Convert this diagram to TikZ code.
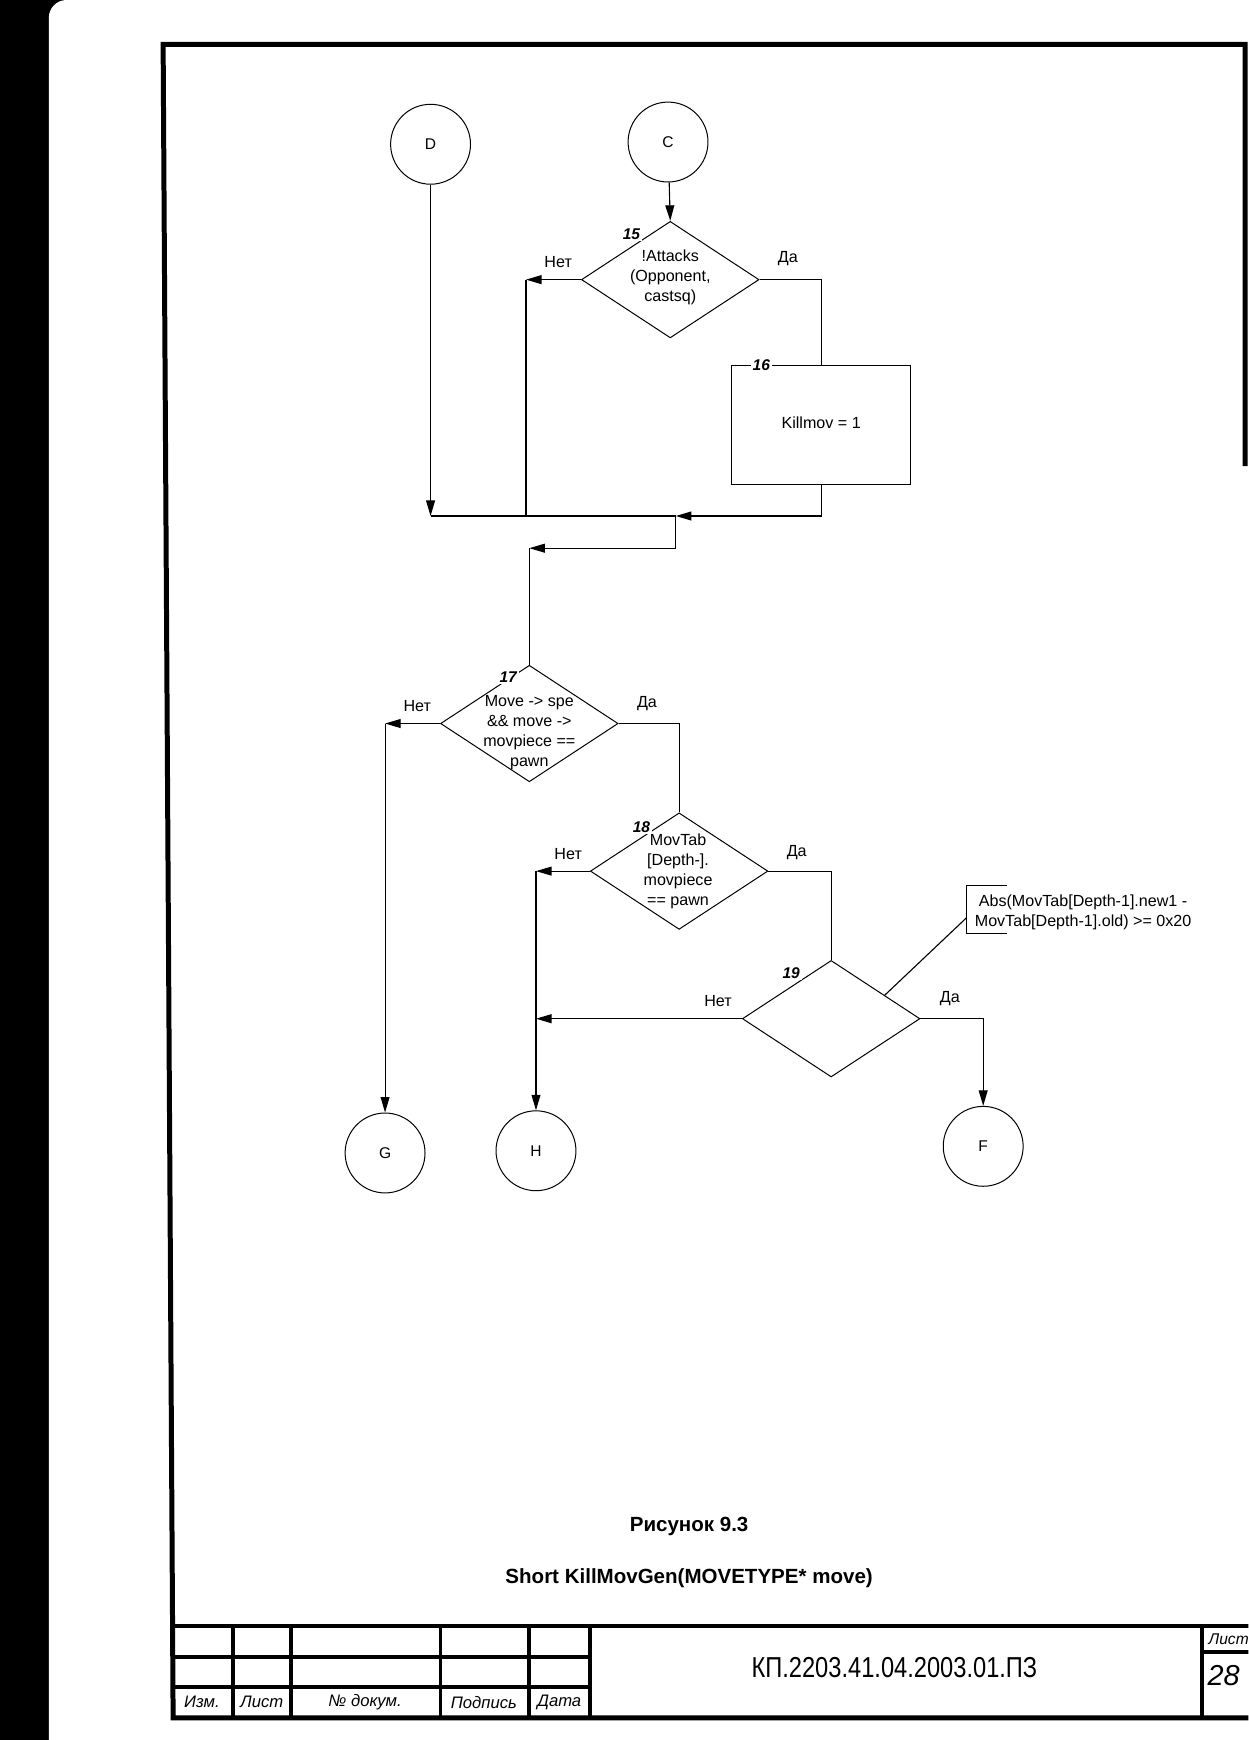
\documentclass[tikz,border=0pt]{standalone}
\usepackage{fontspec}
\setmainfont{Liberation Sans}
\newfontfamily\narrowfont[FakeStretch=0.82]{Liberation Sans}
\usetikzlibrary{shapes.geometric,arrows.meta,calc}
\begin{document}
\begin{tikzpicture}[x=1pt,y=-1pt,
  conn/.style={line width=1pt},
  arr/.style={conn,-{Triangle[length=14pt,width=8pt]}},
  circ/.style={draw,circle,line width=0.9pt,minimum size=72pt,inner sep=0pt,font=\fontsize{14}{16}\selectfont},
  dia/.style={draw,diamond,line width=0.9pt,minimum width=160pt,minimum height=105pt,inner sep=0pt},
  proc/.style={draw,rectangle,line width=0.9pt,minimum width=161pt,minimum height=108pt,inner sep=0pt},
  txt/.style={align=center,inner sep=0pt,font=\fontsize{14.5}{18}\selectfont},
  lbl/.style={inner sep=0pt,font=\fontsize{14.5}{18}\selectfont},
  num/.style={fill=white,inner sep=1.5pt,font=\fontsize{14}{16}\selectfont\bfseries\itshape},
  frame/.style={line width=4.5pt,line join=miter},
  tb/.style={line width=3.5pt},
  tbl/.style={inner sep=0pt,font=\fontsize{15}{17}\selectfont\itshape},
  captxt/.style={inner sep=0pt,font=\fontsize{18.5}{22}\selectfont\bfseries},
]
\useasboundingbox (0,0) rectangle (1125,1568);
\clip (0,0) rectangle (1125,1568);
% scanned page edge
\fill[black] (0,0) rectangle (60,1568);
\fill[white,rounded corners=16pt] (44,0) rectangle (1300,1700);

% sheet frame
\draw[frame] (1122,420) -- (1122,40) -- (147,40) -- (156,1548) -- (1130,1548);

% title block
\draw[tb] (156,1465) -- (1130,1465);
\draw[tb] (156,1493) -- (532,1493);
\draw[tb] (156,1520) -- (532,1520);
\foreach \xx in {210,262,397,477,532,1083} \draw[tb] (\xx,1465) -- (\xx,1548);
\draw[tb] (1083,1489) -- (1130,1489);
\node[tbl] (t1) at (182,1534) {Изм.};
\node[tbl] (t2) at (236,1534) {Лист};
\node[tbl] (t3) at (329,1534) {№ докум.};
\node[tbl] (t4) at (436,1534) {Подпись};
\node[tbl] (t5) at (504,1534) {Дата};
\node[inner sep=0pt,font=\narrowfont\fontsize{26}{28}\selectfont] (doc) at (806,1503) {КП.2203.41.04.2003.01.ПЗ};
\node[inner sep=0pt,anchor=west,font=\fontsize{14}{16}\selectfont\itshape] (ls) at (1089,1477) {Лист};
\node[inner sep=0pt,anchor=west,font=\fontsize{26}{28}\selectfont\itshape] (pg) at (1088,1510) {28};

% captions
\node[captxt] (cap1) at (621,1376) {Рисунок 9.3};
\node[captxt] (cap2) at (621,1422) {Short KillMovGen(MOVETYPE* move)};

% nodes
\node[circ] (D) at (388,130) {D};
\node[circ] (C) at (602,128) {C};
\node[dia] (d15) at (604,252) {};
\node[txt] (t15) at (604,250) {!Attacks\\(Opponent,\\castsq)};
\node[proc] (b16) at (740,383) {};
\node[txt] (t16) at (740,381) {Killmov = 1};
\node[dia] (d17) at (477,652) {};
\node[txt] (t17) at (477,660) {Move -> spe\\\&\& move ->\\movpiece ==\\pawn};
\node[dia] (d18) at (612,785) {};
\node[txt] (t18) at (611,785) {MovTab\\{[Depth-].}\\movpiece\\== pawn};
\node[dia] (d19) at (749,918) {};
\node[circ] (G) at (347,1039) {G};
\node[circ] (H) at (483,1037) {H};
\node[circ] (F) at (886,1033) {F};

% block numbers
\node[num] (n15l) at (569,211) {15};
\node[num] (n16l) at (686,329) {16};
\node[num] (n17l) at (458,610) {17};
\node[num] (n18l) at (578,745) {18};
\node[num] (n19l) at (713,877) {19};

% junction points
\coordinate (n15) at (474,252);
\coordinate (n15b) at (474,465);
\coordinate (m1) at (388,465);
\coordinate (m2) at (609,465);
\coordinate (m2b) at (609,494);
\coordinate (m3) at (477,494);
\coordinate (n17) at (347,652);
\coordinate (n18) at (483,785);
\coordinate (n19) at (483,918);

% connectors
\draw[arr] (C) -- (d15.north);
\draw[arr] (d15.west) -- (n15);
\draw[conn] (n15) -- (n15b);
\draw[conn] (d15.east) -| (b16.north);
\draw[arr] (D) -- (m1);
\draw[conn] (m1) -- (m2);
\draw[arr] (b16.south) |- (m2);
\draw[conn] (m2) -- (m2b);
\draw[arr] (m2b) -- (m3);
\draw[conn] (m3) -- (d17.north);
\draw[arr] (d17.west) -- (n17);
\draw[arr] (n17) -- (G);
\draw[conn] (d17.east) -| (d18.north);
\draw[arr] (d18.west) -- (n18);
\draw[arr] (n18) -- (H);
\draw[conn] (d18.east) -| (d19.north);
\draw[arr] (d19.west) -- (n19);
\draw[arr] (d19.east) -| (F);

% branch labels
\node[lbl] (l15n) at (503,236) {Нет};
\node[lbl] (l15y) at (710,233) {Да};
\node[lbl] (l17n) at (376,636) {Нет};
\node[lbl] (l17y) at (583,634) {Да};
\node[lbl] (l18n) at (512,770) {Нет};
\node[lbl] (l18y) at (718,768) {Да};
\node[lbl] (l19n) at (647,902) {Нет};
\node[lbl] (l19y) at (856,900) {Да};

% annotation for 19
\node[txt] (ann) at (976,822) {Abs(MovTab[Depth-1].new1 -\\MovTab[Depth-1].old) >= 0x20};
\coordinate (a1) at ($(d19.north)!0.6!(d19.east)$);
\coordinate (bk) at (871,827);
\draw[conn] (a1) -- (bk);
\draw[conn] (907,798) -- (871,798) -- (871,841) -- (907,841);
\end{tikzpicture}
\end{document}
